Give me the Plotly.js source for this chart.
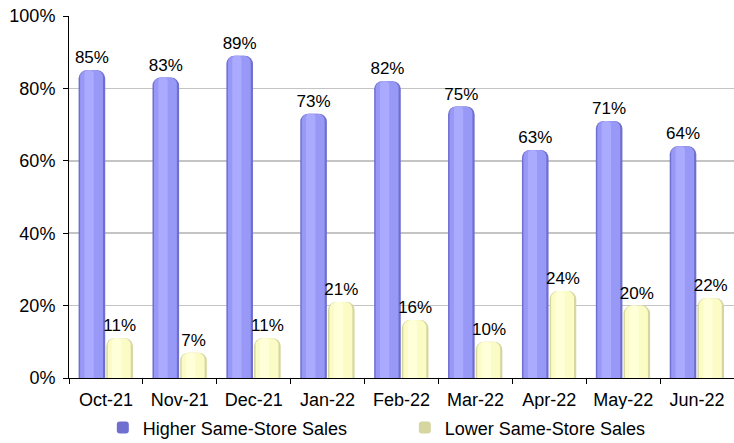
<!DOCTYPE html>
<html>
<head>
<meta charset="utf-8">
<script src="https://cdn.plot.ly/plotly-3.0.1.min.js"></script>
<style>html,body{margin:0;padding:0;background:#fff;}#chart{width:734px;height:443px;}</style>
</head>
<body>
<div id="chart"></div>
<script>
const categories = ["Oct-21","Nov-21","Dec-21","Jan-22","Feb-22","Mar-22","Apr-22","May-22","Jun-22"];
const higherSales = [85, 83, 89, 73, 82, 75, 63, 71, 64];
const lowerSales = [11, 7, 11, 21, 16, 10, 24, 20, 22];
const seriesNames = ["Higher Same-Store Sales", "Lower Same-Store Sales"];

const FONT = "Liberation Sans, Arial, sans-serif";
const W = 0.36;

function layers(vals, name, offset, cols) {
  const base = {
    type: "bar", x: categories, y: vals, hoverinfo: "skip",
    marker: {color: cols[0], cornerradius: 8, line: {width: 0}},
    width: W, offset: offset, name: name, showlegend: true,
    text: vals.map(v => v + "%"), textposition: "outside",
    textfont: {family: FONT, size: 17, color: "#000"},
    constraintext: "none", cliponaxis: false
  };
  const mid = {
    type: "bar", x: categories, y: vals, hoverinfo: "skip",
    marker: {color: cols[1], cornerradius: 7, line: {width: 0}},
    width: W - 0.05, offset: offset + 0.02, showlegend: false,
    textposition: "none"
  };
  const hi = {
    type: "bar", x: categories, y: vals, hoverinfo: "skip",
    marker: {color: cols[2], cornerradius: 5, line: {width: 0}},
    width: W * 0.35, offset: offset + W * 0.22, showlegend: false,
    textposition: "none"
  };
  return [base, mid, hi];
}

const data = [
  ...layers(higherSales, seriesNames[0], -0.37, ["#6f6fcf", "#9898f6", "#aaaaff"]),
  ...layers(lowerSales, seriesNames[1], 0.005, ["#d6d6a0", "#fbfbc6", "#ffffd8"])
];

const layout = {
  width: 734, height: 443,
  margin: {l: 69, r: 0, t: 16, b: 65},
  paper_bgcolor: "#fff", plot_bgcolor: "#fff",
  barmode: "overlay",
  font: {family: FONT, size: 18, color: "#000"},
  xaxis: {
    type: "category", tickson: "boundaries",
    ticks: "outside", ticklen: 5, tickcolor: "#000", tickwidth: 1,
    showline: true, linecolor: "#000", linewidth: 1,
    showgrid: false, tickfont: {family: FONT, size: 18, color: "#000"},
    ticklabelstandoff: 5, fixedrange: true, automargin: false
  },
  yaxis: {
    range: [0, 100], dtick: 20, ticksuffix: "%",
    ticks: "outside", ticklen: 5, tickcolor: "#000", tickwidth: 1,
    showline: true, linecolor: "#000", linewidth: 1,
    showgrid: true, gridcolor: "#c4c4c4", gridwidth: 1.5,
    zeroline: false, tickfont: {family: FONT, size: 18, color: "#000"},
    ticklabelstandoff: 4, fixedrange: true, automargin: false
  },
  legend: {
    orientation: "h", x: 0.505, xanchor: "center",
    yref: "container", y: 0.076, yanchor: "top",
    font: {family: FONT, size: 18, color: "#000"},
    entrywidth: 257, itemwidth: 30, traceorder: "normal"
  },
  showlegend: true
};

Plotly.newPlot("chart", data, layout, {displayModeBar: false, staticPlot: true});
</script>
</body>
</html>
